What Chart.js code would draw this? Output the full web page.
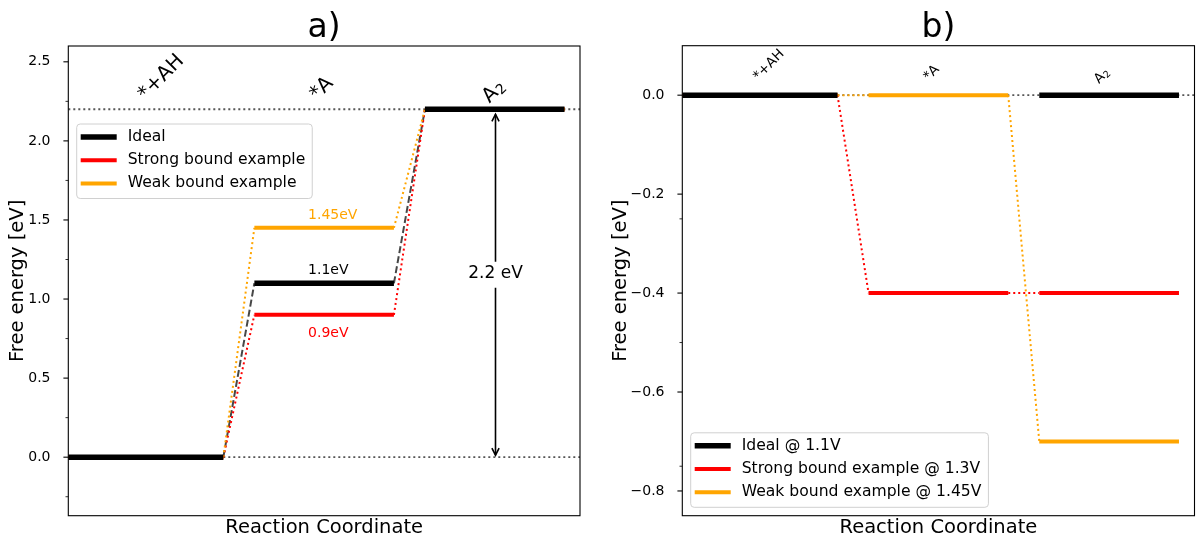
<!DOCTYPE html>
<html><head><meta charset="utf-8">
<script src="https://cdn.jsdelivr.net/npm/chart.js@4.4.0/dist/chart.umd.min.js"></script>
<style>
html,body{margin:0;padding:0;background:#fff;}
#wrap{position:relative;width:1196px;height:540px;overflow:hidden;}
canvas{position:absolute;top:0;}
</style></head><body>
<div id="wrap">
<canvas id="ca" width="598" height="540" style="left:0"></canvas>
<canvas id="cb" width="598" height="540" style="left:598px"></canvas>
</div>
<script>
// ---------------- data ----------------
const stages = ['*+AH', '*A', 'A\u2082'];
const stageStart = [0, 1.2, 2.3];
const stageEnd = [1.0, 2.1, 3.2];

// panel a) free energies (eV)
const idealA = [0, 1.1, 2.2];
const strongA = [0, 0.9, 2.2];
const weakA = [0, 1.45, 2.2];
// panel b) free energies at applied potential (eV)
const idealB = [0, 0, 0];
const strongB = [0, -0.4, -0.4];
const weakB = [0, 0, -0.7];

const legendA = ['Ideal', 'Strong bound example', 'Weak bound example'];
const legendB = ['Ideal @ 1.1V', 'Strong bound example @ 1.3V', 'Weak bound example @ 1.45V'];
const stepLabels = ['1.1eV', '0.9eV', '1.45eV'];
const totalLabel = '2.2 eV';

const yMajorA = [0, 0.5, 1.0, 1.5, 2.0, 2.5];
const yMinorA = [-0.25, 0.25, 0.75, 1.25, 1.75, 2.25];
const yMajorB = [-0.8, -0.6, -0.4, -0.2, 0];
const yMinorB = [-0.75, -0.5, -0.25];

// ---------------- style ----------------
const FONT = 'DejaVu Sans';
const X_MIN = 0, X_MAX = 3.3;
const seriesColors = ['#000000', '#ff0000', '#ffa500'];
const levelWidths = [5.5, 4, 4];

function line(p0, p1, color, width, dash) {
  return { data: [p0, p1], borderColor: color, backgroundColor: color, borderWidth: width,
    borderDash: dash || [], showLine: true, pointRadius: 0, pointHoverRadius: 0,
    fill: false, tension: 0, borderCapStyle: 'butt' };
}

function buildDatasets(series, refLevels, idealConnectors, idealMiddle) {
  const list = [];
  refLevels.forEach(v => list.push(line({x: X_MIN, y: v}, {x: X_MAX, y: v}, '#555555', 1.8, [2, 3])));
  series.forEach((vals, s) => {
    if (s === 0 && !idealConnectors) return;
    for (let i = 0; i < vals.length - 1; i++) {
      const p0 = {x: stageEnd[i], y: vals[i]}, p1 = {x: stageStart[i + 1], y: vals[i + 1]};
      if (s === 0) list.push(line(p0, p1, 'rgba(0,0,0,0.72)', 2, [7, 3.2]));
      else list.push(line(p0, p1, seriesColors[s], 2, [2, 3]));
    }
  });
  const lvl = (s, i) => list.push(line({x: stageStart[i], y: series[s][i]}, {x: stageEnd[i], y: series[s][i]}, seriesColors[s], levelWidths[s]));
  if (idealMiddle) lvl(0, 1);
  for (let s = 1; s < 3; s++) for (let i = 0; i < 3; i++) lvl(s, i);
  lvl(0, 0); lvl(0, 2);
  list.forEach((d, k) => d.order = -k);
  return list;
}

function fmt(v, major) {
  if (!major.some(m => Math.abs(m - v) < 1e-9)) return '';
  const s = (Math.abs(v) < 1e-9 ? 0 : v).toFixed(1);
  return s.replace('-', '\u2212');
}

function yScale(min, max, major, minor, width, titlePad) {
  return {
    type: 'linear', min: min, max: max,
    afterBuildTicks: sc => { sc.ticks = major.concat(minor).sort((a, b) => a - b).map(v => ({value: v})); },
    afterFit: sc => { sc.width = width; },
    ticks: { autoSkip: false, padding: 9.8, color: '#000', font: {family: FONT, size: 14}, callback: v => fmt(v, major) },
    grid: { display: false },
    border: { display: false },
    title: { display: true, text: 'Free energy [eV]', color: '#000', font: {family: FONT, size: 19.5}, padding: {top: titlePad, bottom: 0} }
  };
}

function xScale(height) {
  return {
    type: 'linear', min: X_MIN, max: X_MAX,
    ticks: { display: false }, grid: { display: false }, border: { display: false },
    afterFit: sc => { sc.height = height; },
    title: { display: true, text: 'Reaction Coordinate', color: '#000', font: {family: FONT, size: 19.5}, padding: {top: 0, bottom: 0.3} }
  };
}

// draws a label, rendering a trailing subscript digit (₂) as a smaller lowered "2"
function drawStageLabel(ctx, text, size) {
  const m = text.match(/^(.*?)([\u2080-\u2089])$/);
  if (!m) { ctx.font = size + 'px "' + FONT + '"'; ctx.textAlign = 'center'; ctx.fillText(text, 0, 0); return; }
  const main = m[1], sub = String(m[2].charCodeAt(0) - 0x2080);
  ctx.font = size + 'px "' + FONT + '"';
  const w1 = ctx.measureText(main).width;
  ctx.font = (size * 0.7) + 'px "' + FONT + '"';
  const w2 = ctx.measureText(sub).width;
  const x0 = -(w1 + w2) / 2;
  ctx.textAlign = 'left';
  ctx.font = size + 'px "' + FONT + '"';
  ctx.fillText(main, x0, 0);
  ctx.font = (size * 0.7) + 'px "' + FONT + '"';
  ctx.fillText(sub, x0 + w1 + size * 0.03, size * 0.2);
}

// decorations: frame, tick marks, title, stage labels, legend, annotations
function decoPlugin(cfg) {
  return {
    id: 'deco',
    afterDatasetsDraw(chart) {
      const ctx = chart.ctx, a = chart.chartArea, xs = chart.scales.x, ys = chart.scales.y;
      ctx.save();
      // frame
      ctx.strokeStyle = '#000'; ctx.lineWidth = 1.1;
      ctx.strokeRect(a.left, a.top, a.right - a.left, a.bottom - a.top);
      // tick marks
      cfg.major.forEach(v => { const y = ys.getPixelForValue(v); ctx.beginPath(); ctx.moveTo(a.left - 4.9, y); ctx.lineTo(a.left, y); ctx.lineWidth = 1.1; ctx.stroke(); });
      cfg.minor.forEach(v => { const y = ys.getPixelForValue(v); ctx.beginPath(); ctx.moveTo(a.left - 2.8, y); ctx.lineTo(a.left, y); ctx.lineWidth = 0.8; ctx.stroke(); });
      // title
      ctx.fillStyle = '#000'; ctx.font = '33px "' + FONT + '"'; ctx.textAlign = 'center'; ctx.textBaseline = 'alphabetic';
      ctx.fillText(cfg.title, (a.left + a.right) / 2, 36.5);
      // stage labels (rotated)
      ctx.textBaseline = 'middle';
      stages.forEach((s, i) => {
        const p = cfg.stagePos[i];
        ctx.save();
        ctx.translate(xs.getPixelForValue(p[0]), ys.getPixelForValue(p[1]));
        ctx.rotate(-Math.PI / 4);
        drawStageLabel(ctx, s, cfg.stageFont);
        ctx.restore();
      });
      if (cfg.extra) cfg.extra(chart, ctx);
      // legend
      ctx.font = '15.6px "' + FONT + '"';
      const tw = Math.max(...cfg.legend.map(t => ctx.measureText(t).width));
      const bw = 51 + tw + 7, bh = 74.5;
      const bx = a.left + 8.4;
      const by = cfg.legendTop ? a.top + 78 : a.bottom - 8.4 - bh;
      ctx.beginPath();
      if (ctx.roundRect) ctx.roundRect(bx, by, bw, bh, 3.5); else ctx.rect(bx, by, bw, bh);
      ctx.fillStyle = 'rgba(255,255,255,0.85)'; ctx.fill();
      ctx.strokeStyle = '#d0d0d0'; ctx.lineWidth = 1; ctx.stroke();
      cfg.legend.forEach((t, i) => {
        const y = by + 13 + i * 23.2;
        ctx.beginPath(); ctx.moveTo(bx + 4, y); ctx.lineTo(bx + 40, y);
        ctx.strokeStyle = seriesColors[i]; ctx.lineWidth = levelWidths[i]; ctx.setLineDash([]); ctx.stroke();
        ctx.fillStyle = '#000'; ctx.textAlign = 'left'; ctx.textBaseline = 'middle';
        ctx.fillText(t, bx + 51, y);
      });
      ctx.restore();
    }
  };
}

function extraA(chart, ctx) {
  const xs = chart.scales.x, ys = chart.scales.y;
  // step labels
  ctx.font = '14px "' + FONT + '"'; ctx.textAlign = 'left'; ctx.textBaseline = 'middle';
  const lx = xs.getPixelForValue(1.546);
  ctx.fillStyle = seriesColors[0]; ctx.fillText(stepLabels[0], lx, ys.getPixelForValue(idealA[1] + 0.08));
  ctx.fillStyle = seriesColors[1]; ctx.fillText(stepLabels[1], lx, ys.getPixelForValue(strongA[1] - 0.118));
  ctx.fillStyle = seriesColors[2]; ctx.fillText(stepLabels[2], lx, ys.getPixelForValue(weakA[1] + 0.08));
  // double arrow for the total
  const ax = Math.round(xs.getPixelForValue(2.75)) + 0.5;
  const yTop = ys.getPixelForValue(idealA[2]) + 5, yBot = ys.getPixelForValue(idealA[0]) - 2;
  const ty = ys.getPixelForValue(1.16);
  ctx.strokeStyle = '#000'; ctx.lineWidth = 1.6; ctx.setLineDash([]);
  ctx.beginPath(); ctx.moveTo(ax, yTop); ctx.lineTo(ax, ty - 12); ctx.moveTo(ax, ty + 14); ctx.lineTo(ax, yBot); ctx.stroke();
  ctx.beginPath();
  ctx.moveTo(ax - 3.6, yTop + 7); ctx.lineTo(ax, yTop); ctx.lineTo(ax + 3.6, yTop + 7);
  ctx.moveTo(ax - 3.6, yBot - 7); ctx.lineTo(ax, yBot); ctx.lineTo(ax + 3.6, yBot - 7);
  ctx.stroke();
  ctx.fillStyle = '#000'; ctx.font = '17px "' + FONT + '"'; ctx.textAlign = 'center'; ctx.textBaseline = 'middle';
  ctx.fillText(totalLabel, ax, ty);
}

const baseOptions = {
  responsive: false, animation: false, events: [],
  plugins: { legend: { display: false }, tooltip: { enabled: false }, title: { display: false } }
};

new Chart(document.getElementById('ca'), {
  type: 'scatter',
  data: { datasets: buildDatasets([idealA, strongA, weakA], [idealA[2], idealA[0]], true, true) },
  options: Object.assign({}, baseOptions, {
    layout: { padding: { left: 0, right: 18, top: 46, bottom: 0 } },
    scales: { x: xScale(24.3), y: yScale(-0.37, 2.6, yMajorA, yMinorA, 68.3, 6.3) }
  }),
  plugins: [decoPlugin({ title: 'a)', major: yMajorA, minor: yMinorA, legend: legendA, legendTop: true,
    stageFont: 20, stagePos: [[0.6, 2.40], [1.635, 2.33], [2.744, 2.31]], extra: extraA })]
});

new Chart(document.getElementById('cb'), {
  type: 'scatter',
  data: { datasets: buildDatasets([idealB, strongB, weakB], [idealB[0]], false, false) },
  options: Object.assign({}, baseOptions, {
    layout: { padding: { left: 0, right: 1.5, top: 45.7, bottom: 0 } },
    scales: { x: xScale(24.3), y: yScale(-0.85, 0.1, yMajorB, yMinorB, 84.3, 11.3) }
  }),
  plugins: [decoPlugin({ title: 'b)', major: yMajorB, minor: yMinorB, legend: legendB, legendTop: false,
    stageFont: 13.5, stagePos: [[0.559, 0.0606], [1.606, 0.0444], [2.704, 0.0384]] })]
});
</script>
</body></html>
